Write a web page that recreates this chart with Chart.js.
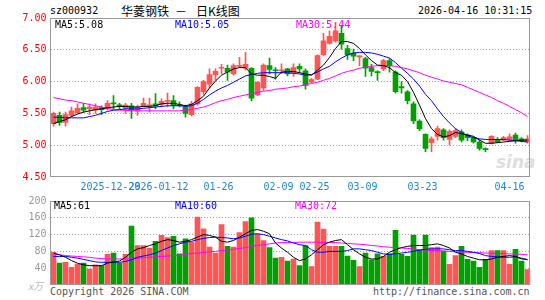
<!DOCTYPE html>
<html>
<head>
<meta charset="utf-8">
<script src="https://cdn.jsdelivr.net/npm/chart.js@4.4.0/dist/chart.umd.min.js"></script>
<style>
  body { margin: 0; background: #fff; width: 545px; height: 300px; overflow: hidden; position: relative;
         font-family: "DejaVu Sans Mono", monospace; font-size: 10px; }
  .t { position: absolute; white-space: pre; line-height: 12px; }
  .cn { font-family: "Noto Sans CJK SC", sans-serif; font-size: 12px; line-height: 14px; }
  canvas { position: absolute; left: 0; z-index: 1; }
  #main { top: 0; }
  #vol { top: 196px; }
  .mark { position: absolute; z-index: 0; left: 496px; top: 152px; font: italic bold 17px "DejaVu Sans", sans-serif; color: #dedede; }
</style>
</head>
<body>
<div class="t" style="left:50px;top:5px;color:#000">sz000932</div>
<div class="t cn" style="left:121px;top:4px;color:#000">华菱钢铁</div>
<div class="t cn" style="left:175px;top:4px;color:#000">－</div>
<div class="t cn" style="left:196px;top:4px;color:#000">日K线图</div>
<div class="t" style="left:418px;top:5px;color:#000">2026-04-16 10:31:15</div>
<div class="mark">sina</div>
<canvas id="main" width="545" height="196"></canvas>
<canvas id="vol" width="545" height="104"></canvas>
<div class="t" style="left:55px;top:19px;color:#000;z-index:2">MA5:5.08</div>
<div class="t" style="left:175px;top:19px;color:#0000ff;z-index:2">MA10:5.05</div>
<div class="t" style="left:296px;top:19px;color:#ff00ff;z-index:2">MA30:5.44</div>
<div class="t" style="left:54px;top:200px;color:#000;z-index:2">MA5:61</div>
<div class="t" style="left:175px;top:200px;color:#0000ff;z-index:2">MA10:60</div>
<div class="t" style="left:295px;top:200px;color:#ff00ff;z-index:2">MA30:72</div>
<div class="t cn" style="left:28px;top:279px;color:#bbb;font-size:10px;font-style:italic">x万</div>
<div class="t" style="left:50px;top:286px;color:#555">Copyright 2026 SINA.COM</div>
<div class="t" style="left:373px;top:286px;color:#555">http://finance.sina.com.cn</div>
<script>
// 日付（取引日）
const dates = [
  "2025-12-15","2025-12-16","2025-12-17","2025-12-18","2025-12-19","2025-12-22","2025-12-23","2025-12-24","2025-12-25","2025-12-26",
  "2025-12-29","2025-12-30","2025-12-31","2026-01-05","2026-01-06","2026-01-07","2026-01-08","2026-01-09","2026-01-12","2026-01-13",
  "2026-01-14","2026-01-15","2026-01-16","2026-01-19","2026-01-20","2026-01-21","2026-01-22","2026-01-23","2026-01-26","2026-01-27",
  "2026-01-28","2026-01-29","2026-01-30","2026-02-02","2026-02-03","2026-02-04","2026-02-05","2026-02-06","2026-02-09","2026-02-10",
  "2026-02-11","2026-02-12","2026-02-13","2026-02-24","2026-02-25","2026-02-26","2026-02-27","2026-03-02","2026-03-03","2026-03-04",
  "2026-03-05","2026-03-06","2026-03-09","2026-03-10","2026-03-11","2026-03-12","2026-03-13","2026-03-16","2026-03-17","2026-03-18",
  "2026-03-19","2026-03-20","2026-03-23","2026-03-24","2026-03-25","2026-03-26","2026-03-27","2026-03-30","2026-03-31","2026-04-01",
  "2026-04-02","2026-04-03","2026-04-07","2026-04-08","2026-04-09","2026-04-10","2026-04-13","2026-04-14","2026-04-15","2026-04-16"
];

// x軸に表示するラベル
const labelIdx = [10, 18, 28, 38, 44, 52, 62, 79];
const labelText = ["2025-12-29", "2026-01-12", "01-26", "02-09", "02-25", "03-09", "03-23", "04-16"];

// 四本値
const opens = [
  5.34,5.47,5.36,5.47,5.51,5.59,5.57,5.55,5.59,5.57,
  5.66,5.63,5.58,5.62,5.54,5.62,5.62,5.65,5.64,5.69,
  5.70,5.63,5.60,5.48,5.65,5.84,5.96,6.11,6.21,6.21,
  6.12,6.24,6.21,6.21,5.79,5.90,6.25,6.18,6.17,6.20,
  6.13,6.24,6.17,5.99,6.04,6.42,6.60,6.64,6.76,6.52,
  6.45,6.39,6.36,6.22,6.15,6.20,6.33,6.15,5.92,5.84,
  5.65,5.38,5.17,5.04,5.14,5.24,5.09,5.14,5.21,5.16,
  5.12,5.05,4.94,5.03,5.09,5.08,5.09,5.16,5.10,5.05
];
const highs = [
  5.52,5.52,5.52,5.60,5.65,5.66,5.65,5.65,5.62,5.70,
  5.78,5.66,5.66,5.66,5.63,5.74,5.74,5.81,5.73,5.82,
  5.78,5.68,5.63,5.69,5.92,6.02,6.20,6.20,6.27,6.26,
  6.28,6.38,6.46,6.22,6.00,6.28,6.37,6.22,6.28,6.21,
  6.28,6.28,6.20,6.05,6.42,6.76,6.80,6.93,6.88,6.57,
  6.51,6.41,6.38,6.27,6.17,6.35,6.36,6.17,6.00,5.86,
  5.68,5.40,5.18,5.13,5.30,5.26,5.24,5.26,5.24,5.18,
  5.13,5.08,4.96,5.15,5.12,5.14,5.18,5.19,5.12,5.15
];
const lows = [
  5.30,5.31,5.30,5.45,5.50,5.52,5.48,5.50,5.48,5.55,
  5.57,5.57,5.50,5.42,5.47,5.60,5.52,5.57,5.60,5.60,
  5.57,5.60,5.44,5.46,5.63,5.80,5.90,6.02,6.12,6.02,
  6.10,6.22,6.18,5.70,5.78,5.86,6.12,6.04,6.13,6.09,
  6.08,6.14,5.88,5.98,6.03,6.41,6.59,6.62,6.51,6.35,
  6.33,6.25,6.08,6.09,6.02,6.17,6.15,5.82,5.82,5.65,
  5.34,5.23,4.90,4.90,5.08,5.08,5.00,5.12,5.05,5.07,
  5.03,4.92,4.90,5.02,5.04,5.07,5.07,5.03,5.05,5.03
];
const closes = [
  5.50,5.36,5.48,5.54,5.58,5.55,5.60,5.60,5.56,5.66,
  5.65,5.62,5.63,5.55,5.60,5.66,5.63,5.62,5.69,5.70,
  5.62,5.62,5.50,5.65,5.91,6.00,6.11,6.16,6.22,6.15,
  6.25,6.25,6.27,5.74,5.99,6.26,6.19,6.17,6.18,6.12,
  6.22,6.20,5.94,6.03,6.41,6.64,6.71,6.80,6.59,6.42,
  6.40,6.40,6.21,6.16,6.14,6.33,6.25,5.84,5.90,5.70,
  5.38,5.26,4.95,5.10,5.26,5.12,5.22,5.23,5.08,5.12,
  5.05,4.95,4.93,5.14,5.05,5.12,5.13,5.08,5.07,5.10
];

// 移動平均（価格）
const ma5 = [
  5.34,5.37,5.40,5.45,5.49,5.52,5.54,5.56,5.57,5.59,
  5.60,5.61,5.61,5.60,5.60,5.61,5.61,5.62,5.65,5.66,
  5.66,5.64,5.62,5.64,5.70,5.77,5.90,6.01,6.10,6.15,
  6.20,6.22,6.22,6.12,6.10,6.10,6.08,6.05,6.15,6.16,
  6.16,6.14,6.12,6.10,6.18,6.26,6.38,6.52,6.63,6.63,
  6.60,6.52,6.42,6.33,6.26,6.25,6.22,6.14,6.10,6.00,
  5.83,5.63,5.42,5.26,5.17,5.13,5.15,5.20,5.18,5.16,
  5.14,5.08,5.03,5.03,5.04,5.05,5.06,5.07,5.08,5.08
];
const ma10 = [
  5.44,5.44,5.43,5.43,5.43,5.43,5.45,5.47,5.50,5.53,
  5.55,5.56,5.57,5.57,5.57,5.58,5.59,5.60,5.61,5.62,
  5.62,5.62,5.61,5.62,5.66,5.72,5.79,5.85,5.90,5.94,
  5.99,6.04,6.09,6.11,6.13,6.14,6.14,6.14,6.14,6.14,
  6.13,6.12,6.10,6.11,6.15,6.20,6.24,6.31,6.37,6.42,
  6.45,6.46,6.46,6.45,6.43,6.40,6.37,6.30,6.21,6.13,
  6.04,5.93,5.80,5.70,5.57,5.45,5.35,5.26,5.20,5.15,
  5.12,5.10,5.09,5.09,5.09,5.09,5.08,5.07,5.06,5.05
];
const ma30 = [
  5.75,5.73,5.71,5.70,5.68,5.66,5.64,5.62,5.60,5.58,
  5.56,5.55,5.55,5.54,5.54,5.54,5.54,5.54,5.54,5.54,
  5.54,5.54,5.55,5.56,5.58,5.60,5.63,5.67,5.70,5.72,
  5.75,5.77,5.79,5.81,5.83,5.85,5.86,5.88,5.89,5.90,
  5.92,5.93,5.95,5.97,5.99,6.02,6.05,6.09,6.13,6.16,
  6.18,6.21,6.23,6.24,6.25,6.25,6.25,6.24,6.22,6.20,
  6.17,6.14,6.10,6.07,6.04,6.01,5.99,5.97,5.95,5.91,
  5.87,5.83,5.79,5.75,5.70,5.66,5.61,5.56,5.51,5.45
];

// 出来高（万手）
const volumes = [
  78,52,54,42,50,52,38,48,46,73,
  76,52,73,140,94,94,88,104,118,113,
  116,74,110,102,162,134,90,76,144,92,
  90,125,151,160,121,106,89,64,66,57,
  62,46,94,44,150,133,92,92,92,69,
  59,44,76,60,74,68,74,130,73,68,
  119,84,119,89,90,81,49,70,92,61,
  57,42,61,82,82,82,49,85,57,37
];
const volMa5 = [
  76,72,66,58,52,48,46,46,46,52,
  55,57,66,78,86,89,94,98,104,108,
  106,102,104,108,114,120,118,114,104,102,
  106,114,122,130,132,128,122,100,88,78,
  66,58,62,72,84,96,102,106,108,96,
  84,74,66,62,62,68,78,84,89,92,
  94,94,94,96,98,94,88,78,74,68,
  64,60,60,62,66,68,70,68,62,61
];
const volMa10 = [
  68,68,68,66,64,61,58,55,54,54,
  54,54,56,60,66,69,72,76,82,88,
  94,98,102,104,108,111,113,114,113,112,
  110,112,116,121,122,120,116,112,108,105,
  100,96,94,84,78,78,80,80,80,82,
  86,86,84,82,78,74,73,74,76,78,
  80,83,85,86,86,86,84,82,82,80,
  78,75,70,68,67,66,66,67,64,60
];
const volMa30 = [
  73,72,70,69,68,67,66,64,63,62,
  62,62,62,63,64,65,66,67,68,69,
  70,71,73,75,76,78,79,80,82,83,
  85,87,89,92,94,96,98,100,101,101,
  101,102,102,102,102,101,101,101,100,99,
  98,97,96,94,93,91,90,89,88,87,
  86,84,83,82,82,81,80,79,78,78,
  77,77,76,76,75,75,74,74,73,72
];

const upColor = "#ff5555";
const downColor = "#00a000";
const gridColor = "#aaaaaa";
const monoFont = { family: "DejaVu Sans Mono", size: 10 };

function isUp(i) {
  return closes[i] >= opens[i];
}
function candleColor(c) {
  return isUp(c.dataIndex) ? upColor : downColor;
}

// 枠線
const framePlugin = {
  id: "frame",
  afterDatasetsDraw(chart) {
    const { ctx, chartArea: a } = chart;
    ctx.save();
    ctx.strokeStyle = "#999";
    ctx.lineWidth = 1;
    ctx.strokeRect(a.left, a.top + 0.5, a.right - 1 - a.left, a.bottom - a.top - 1);
    ctx.restore();
  },
};

function maLine(label, data, color) {
  return {
    type: "line",
    label: label,
    data: data,
    borderColor: color,
    borderWidth: 1,
    pointRadius: 0,
    tension: 0,
    order: 0,
  };
}

function xScale(showLabels, height) {
  return {
    offset: true,
    grid: {
      offset: true,
      drawTicks: false,
      color: function (c) {
        return labelIdx.includes(c.index) ? gridColor : "transparent";
      },
    },
    border: { display: false, dash: [5, 4] },
    ticks: {
      display: showLabels,
      autoSkip: false,
      maxRotation: 0,
      minRotation: 0,
      padding: 4,
      labelOffset: -3,
      color: "#1e88d0",
      font: monoFont,
      showLabelBackdrop: function (c) {
        return c.index === 18;
      },
      backdropColor: "#fff",
      backdropPadding: 0,
      callback: function (v, i) {
        const k = labelIdx.indexOf(i);
        if (k < 0) return null;
        // 最後のラベルは線の左側に寄せる
        return k === labelIdx.length - 1 ? labelText[k] + "     " : labelText[k];
      },
    },
    afterFit: function (s) {
      s.height = height;
      s.paddingLeft = 0;
      s.paddingRight = 0;
    },
  };
}

// ローソク足チャート
new Chart(document.getElementById("main"), {
  type: "bar",
  data: {
    labels: dates,
    datasets: [
      maLine("MA5", ma5, "#000000"),
      maLine("MA10", ma10, "#0000ff"),
      maLine("MA30", ma30, "#ff00ff"),
      {
        label: "body",
        data: dates.map((d, i) => [opens[i], closes[i]]),
        backgroundColor: candleColor,
        barThickness: 5,
        minBarLength: 1,
        grouped: false,
        order: 1,
      },
      {
        label: "wick",
        data: dates.map((d, i) => [lows[i], highs[i]]),
        backgroundColor: candleColor,
        barThickness: 1,
        grouped: false,
        order: 2,
      },
    ],
  },
  options: {
    responsive: false,
    animation: false,
    layout: { padding: { top: 18, right: 14.5, bottom: 0, left: 0 } },
    plugins: { legend: { display: false }, tooltip: { enabled: false } },
    scales: {
      x: xScale(true, 19),
      y: {
        min: 4.5,
        max: 7,
        grid: {
          drawTicks: false,
          color: function (c) {
            const v = c.tick ? c.tick.value : null;
            return v === 4.5 || v === 7 ? "transparent" : gridColor;
          },
        },
        border: { display: false, dash: [1, 2] },
        ticks: {
          stepSize: 0.5,
          padding: 4,
          color: "#ff0000",
          font: monoFont,
          callback: function (v) {
            return v.toFixed(2);
          },
        },
        afterFit: function (s) {
          s.width = 50.5;
          s.paddingTop = 0;
          s.paddingBottom = 0;
        },
      },
    },
  },
  plugins: [framePlugin],
});

// 出来高チャート
new Chart(document.getElementById("vol"), {
  type: "bar",
  data: {
    labels: dates,
    datasets: [
      maLine("MA5", volMa5, "#000000"),
      maLine("MA10", volMa10, "#0000ff"),
      maLine("MA30", volMa30, "#ff00ff"),
      {
        label: "volume",
        data: volumes,
        backgroundColor: candleColor,
        barThickness: 5,
        order: 1,
      },
    ],
  },
  options: {
    responsive: false,
    animation: false,
    layout: { padding: { top: 5, right: 14.5, bottom: 0, left: 0 } },
    plugins: { legend: { display: false }, tooltip: { enabled: false } },
    scales: {
      x: xScale(false, 15),
      y: {
        min: 0,
        max: 200,
        grid: {
          drawTicks: false,
          color: function (c) {
            const v = c.tick ? c.tick.value : null;
            return v === 0 || v === 200 ? "transparent" : gridColor;
          },
        },
        border: { display: false, dash: [1, 2] },
        ticks: {
          stepSize: 40,
          padding: 4,
          color: "#999999",
          font: monoFont,
          callback: function (v) {
            return v === 0 ? "" : String(v);
          },
        },
        afterFit: function (s) {
          s.width = 50.5;
          s.paddingTop = 0;
          s.paddingBottom = 0;
        },
      },
    },
  },
  plugins: [framePlugin],
});
</script>
</body>
</html>
